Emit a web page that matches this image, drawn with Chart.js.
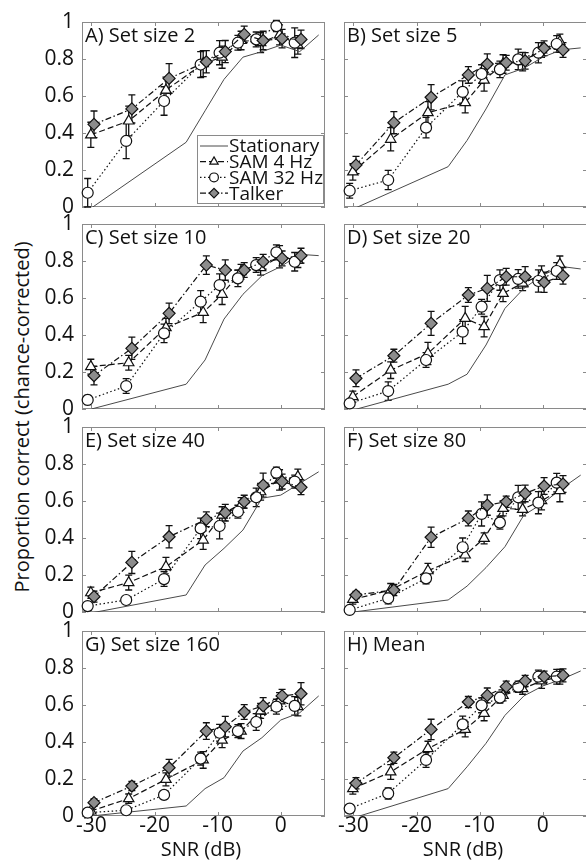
<!DOCTYPE html>
<html>
<head>
<meta charset="utf-8">
<title>Proportion correct vs SNR</title>
<script src="https://cdn.jsdelivr.net/npm/chart.js@4.4.1/dist/chart.umd.min.js"></script>
<style>
  html, body { margin: 0; padding: 0; background: #fff; overflow: hidden; }
  body { width: 586px; height: 861px; position: relative; font-family: "Open Sans", sans-serif; color: #111; }
  canvas { position: absolute; }
  .panel-title { position: absolute; font-size: 20px; line-height: 20px; white-space: nowrap; }
  .axis-title { position: absolute; font-size: 20px; line-height: 20px; white-space: nowrap; }
  #y-title { left: 22px; top: 417px; transform: translate(-50%, -50%) rotate(-90deg); }
</style>
</head>
<body>
<div id="y-title" class="axis-title">Proportion correct (chance-corrected)</div>
<script>
// Axes
const xRange = [-31.5, 7];
const xTicks = [-30, -20, -10, 0];
const yTicks = [0, 0.2, 0.4, 0.6, 0.8, 1];

const panelTitles = ["A) Set size 2", "B) Set size 5", "C) Set size 10", "D) Set size 20",
                     "E) Set size 40", "F) Set size 80", "G) Set size 160", "H) Mean"];
const seriesLabels = ["Stationary", "SAM 4 Hz", "SAM 32 Hz", "Talker"];

// SNR (dB) of each point; the modulated maskers are nudged apart so the bars don't overlap
const snrStationary = [-30, -15, -12, -9, -6, -3, 0, 3, 6];
const snrSam4   = [-30.1, -24.1, -18.2, -12.3, -9.3, -6.3, -3.2, -0.2, 2.7];
const snrSam32  = [-30.6, -24.5, -18.5, -12.7, -9.7, -6.8, -3.9, -0.7, 2.2];
const snrTalker = [-29.6, -23.6, -17.7, -11.8, -8.8, -5.8, -2.8, 0.2, 3.2];

// One row per panel, A..H
const stationary = [
  [-0.005, 0.35, 0.52, 0.69, 0.81, 0.84, 0.875, 0.84, 0.93],
  [-0.01, 0.218, 0.36, 0.53, 0.714, 0.75, 0.81, 0.85, 0.86],
  [0.0, 0.134, 0.265, 0.486, 0.62, 0.72, 0.77, 0.836, 0.829],
  [-0.005, 0.134, 0.188, 0.346, 0.544, 0.652, 0.724, 0.77, 0.757],
  [-0.005, 0.092, 0.254, 0.344, 0.443, 0.615, 0.632, 0.695, 0.758],
  [0.0, 0.065, 0.14, 0.24, 0.353, 0.524, 0.587, 0.668, 0.74],
  [0.0, 0.054, 0.148, 0.207, 0.351, 0.423, 0.519, 0.558, 0.649],
  [-0.01, 0.148, 0.266, 0.393, 0.544, 0.649, 0.703, 0.739, 0.784]
];
const sam4 = [
  [0.39, 0.465, 0.632, 0.775, 0.81, 0.90, 0.888, 0.93, 0.876],
  [0.19, 0.366, 0.51, 0.564, 0.686, 0.773, 0.786, 0.849, 0.894],
  [0.229, 0.25, 0.44, 0.522, 0.62, 0.742, 0.764, 0.823, 0.805],
  [0.067, 0.21, 0.30, 0.49, 0.445, 0.625, 0.68, 0.724, 0.782],
  [0.104, 0.159, 0.245, 0.389, 0.524, 0.578, 0.65, 0.714, 0.732],
  [0.068, 0.119, 0.223, 0.308, 0.398, 0.56, 0.555, 0.602, 0.656],
  [0.027, 0.094, 0.198, 0.303, 0.41, 0.459, 0.568, 0.622, 0.591],
  [0.148, 0.238, 0.364, 0.468, 0.555, 0.652, 0.688, 0.73, 0.753]
];
const sam4Err = [
  [0.068, 0.08, 0.07, 0.07, 0.06, 0.05, 0.054, 0.054, 0.05],
  [0.045, 0.063, 0.06, 0.055, 0.06, 0.05, 0.05, 0.04, 0.04],
  [0.04, 0.04, 0.05, 0.055, 0.055, 0.04, 0.04, 0.06, 0.04],
  [0.03, 0.045, 0.06, 0.065, 0.055, 0.045, 0.04, 0.05, 0.045],
  [0.03, 0.04, 0.05, 0.05, 0.045, 0.04, 0.045, 0.055, 0.04],
  [0.025, 0.035, 0.04, 0.035, 0.03, 0.04, 0.035, 0.05, 0.06],
  [0.015, 0.025, 0.035, 0.045, 0.04, 0.04, 0.04, 0.045, 0.05],
  [0.03, 0.04, 0.04, 0.04, 0.04, 0.03, 0.03, 0.04, 0.04]
];
const sam32 = [
  [0.077, 0.357, 0.573, 0.77, 0.834, 0.888, 0.906, 0.978, 0.888],
  [0.088, 0.146, 0.429, 0.622, 0.719, 0.744, 0.798, 0.834, 0.881],
  [0.049, 0.124, 0.409, 0.58, 0.67, 0.706, 0.778, 0.847, 0.796],
  [0.03, 0.097, 0.265, 0.418, 0.553, 0.697, 0.703, 0.692, 0.746],
  [0.032, 0.065, 0.178, 0.452, 0.465, 0.542, 0.62, 0.753, 0.705],
  [0.011, 0.074, 0.182, 0.35, 0.53, 0.483, 0.62, 0.591, 0.699],
  [0.018, 0.031, 0.114, 0.31, 0.45, 0.459, 0.508, 0.591, 0.595],
  [0.04, 0.122, 0.303, 0.495, 0.598, 0.64, 0.699, 0.753, 0.753]
];
const sam32Err = [
  [0.077, 0.095, 0.077, 0.07, 0.065, 0.04, 0.04, 0.03, 0.08],
  [0.04, 0.052, 0.055, 0.06, 0.05, 0.045, 0.055, 0.055, 0.045],
  [0.025, 0.04, 0.05, 0.06, 0.06, 0.045, 0.04, 0.04, 0.05],
  [0.02, 0.05, 0.04, 0.065, 0.04, 0.055, 0.05, 0.06, 0.045],
  [0.015, 0.015, 0.04, 0.055, 0.07, 0.035, 0.05, 0.03, 0.035],
  [0.01, 0.03, 0.03, 0.05, 0.065, 0.035, 0.065, 0.06, 0.05],
  [0.01, 0.015, 0.02, 0.035, 0.045, 0.035, 0.045, 0.04, 0.05],
  [0.01, 0.03, 0.04, 0.045, 0.04, 0.03, 0.03, 0.035, 0.04]
];
const talker = [
  [0.447, 0.53, 0.695, 0.785, 0.84, 0.933, 0.90, 0.91, 0.906],
  [0.227, 0.456, 0.593, 0.714, 0.773, 0.78, 0.79, 0.858, 0.849],
  [0.18, 0.328, 0.517, 0.778, 0.751, 0.751, 0.796, 0.814, 0.829],
  [0.166, 0.288, 0.463, 0.616, 0.652, 0.715, 0.715, 0.685, 0.72],
  [0.083, 0.268, 0.407, 0.501, 0.537, 0.596, 0.686, 0.705, 0.674],
  [0.092, 0.119, 0.404, 0.506, 0.578, 0.596, 0.641, 0.681, 0.692],
  [0.072, 0.162, 0.261, 0.459, 0.483, 0.562, 0.595, 0.649, 0.661],
  [0.177, 0.315, 0.468, 0.616, 0.652, 0.699, 0.73, 0.753, 0.76]
];
const talkerErr = [
  [0.072, 0.076, 0.08, 0.06, 0.06, 0.045, 0.05, 0.05, 0.05],
  [0.047, 0.06, 0.068, 0.045, 0.055, 0.04, 0.045, 0.04, 0.04],
  [0.05, 0.06, 0.055, 0.05, 0.055, 0.04, 0.04, 0.04, 0.04],
  [0.045, 0.035, 0.065, 0.04, 0.07, 0.045, 0.055, 0.055, 0.045],
  [0.03, 0.06, 0.06, 0.04, 0.045, 0.035, 0.065, 0.04, 0.04],
  [0.02, 0.03, 0.055, 0.04, 0.055, 0.03, 0.045, 0.045, 0.045],
  [0.02, 0.025, 0.045, 0.045, 0.055, 0.04, 0.045, 0.035, 0.06],
  [0.03, 0.03, 0.055, 0.03, 0.04, 0.03, 0.03, 0.03, 0.035]
];

// Page layout: plot boxes for the two columns and four rows
const PLOT_W = 243, PLOT_H = 185;
const colLeft = [82, 344];
const rowTop = [22, 224, 427, 631];
const MARGIN = { left: 60, top: 14, right: 10, bottom: 34 };
const FRAME_COLOR = "#8a8a8a";
const INK = "#111";
const TICK_LEN = 4;

function pairs(xs, ys) {
  return xs.map((x, i) => ({ x: x, y: ys[i] }));
}

// Keep every plot box the same size whatever labels its axes carry
function fixAxisBox(s) {
  if (s.isHorizontal()) s.height = MARGIN.bottom;
  else s.width = MARGIN.left;
  s.paddingTop = s.paddingBottom = s.paddingLeft = s.paddingRight = 0;
}

// Box round the plot area with inward ticks on all four sides
const boxTicks = {
  id: "boxTicks",
  beforeDatasetsDraw(chart) {
    const { ctx, chartArea: a, scales } = chart;
    ctx.save();
    ctx.strokeStyle = FRAME_COLOR;
    ctx.lineWidth = 1;
    ctx.strokeRect(a.left + 0.5, a.top + 0.5, a.width - 1, a.height - 1);
    ctx.beginPath();
    xTicks.forEach(v => {
      const px = Math.round(scales.x.getPixelForValue(v)) + 0.5;
      ctx.moveTo(px, a.bottom); ctx.lineTo(px, a.bottom - TICK_LEN);
      ctx.moveTo(px, a.top); ctx.lineTo(px, a.top + TICK_LEN);
    });
    yTicks.forEach(v => {
      const py = Math.round(scales.y.getPixelForValue(v)) + 0.5;
      ctx.moveTo(a.left, py); ctx.lineTo(a.left + TICK_LEN, py);
      ctx.moveTo(a.right, py); ctx.lineTo(a.right - TICK_LEN, py);
    });
    ctx.stroke();
    ctx.restore();
  }
};

// Vertical error bars with small caps, drawn under the markers
const errorBars = {
  id: "errorBars",
  beforeDatasetsDraw(chart) {
    const { ctx, scales } = chart;
    ctx.save();
    ctx.strokeStyle = INK;
    ctx.lineWidth = 1.3;
    chart.data.datasets.forEach((ds, i) => {
      if (!ds.errors) return;
      chart.getDatasetMeta(i).data.forEach((pt, j) => {
        const v = ds.data[j].y, e = ds.errors[j];
        const top = scales.y.getPixelForValue(v + e);
        const bot = scales.y.getPixelForValue(v - e);
        ctx.beginPath();
        ctx.moveTo(pt.x, top); ctx.lineTo(pt.x, bot);
        ctx.moveTo(pt.x - 3.5, top); ctx.lineTo(pt.x + 3.5, top);
        ctx.moveTo(pt.x - 3.5, bot); ctx.lineTo(pt.x + 3.5, bot);
        ctx.stroke();
      });
    });
    ctx.restore();
  }
};

// Boxed legend in the lower right corner of panel A
const boxLegend = {
  id: "boxLegend",
  afterDraw(chart) {
    if (!chart.options.plugins.boxLegend.show) return;
    const { ctx, chartArea: a } = chart;
    const w = 127, h = 69;
    const left = a.right - 1 - w, top = a.bottom - 3 - h;
    ctx.save();
    ctx.fillStyle = "#fff";
    ctx.fillRect(left, top, w, h);
    ctx.strokeStyle = FRAME_COLOR;
    ctx.lineWidth = 1;
    ctx.strokeRect(left + 0.5, top + 0.5, w - 1, h - 1);
    chart.data.datasets.forEach((ds, i) => {
      const y = top + 11 + i * 15.7;
      ctx.strokeStyle = ds.borderColor;
      ctx.lineWidth = ds.borderWidth;
      ctx.setLineDash(ds.borderDash || []);
      ctx.beginPath();
      ctx.moveTo(left + 3, y); ctx.lineTo(left + 31, y);
      ctx.stroke();
      ctx.setLineDash([]);
      if (ds.pointRadius > 0) {
        ctx.fillStyle = ds.pointBackgroundColor;
        ctx.strokeStyle = ds.pointBorderColor;
        ctx.lineWidth = ds.pointBorderWidth;
        Chart.helpers.drawPoint(ctx, {
          pointStyle: ds.pointStyle, radius: ds.pointRadius * 0.8,
          rotation: 0, borderWidth: ds.pointBorderWidth
        }, left + 17, y);
      }
      ctx.fillStyle = INK;
      ctx.font = '19px "Open Sans"';
      ctx.textBaseline = "middle";
      ctx.fillText(ds.label, left + 32, y + 1);
    });
    ctx.restore();
  }
};

function makeDatasets(p) {
  const marker = { showLine: true, borderColor: INK, borderWidth: 1.2, pointBorderColor: INK,
                   pointBorderWidth: 1.2, clip: false };
  return [
    { label: seriesLabels[0], data: pairs(snrStationary, stationary[p]), showLine: true,
      borderColor: "#4a4a4a", borderWidth: 1, pointRadius: 0, order: 4, clip: 0 },
    Object.assign({ label: seriesLabels[1], data: pairs(snrSam4, sam4[p]), errors: sam4Err[p],
      borderDash: [6, 3], pointStyle: "triangle", pointRadius: 6, pointBackgroundColor: "#fff", order: 3 }, marker),
    Object.assign({ label: seriesLabels[2], data: pairs(snrSam32, sam32[p]), errors: sam32Err[p],
      borderDash: [1.5, 2.5], pointStyle: "circle", pointRadius: 5.5, pointBackgroundColor: "#fff", order: 2 }, marker),
    Object.assign({ label: seriesLabels[3], data: pairs(snrTalker, talker[p]), errors: talkerErr[p],
      borderDash: [6, 2.5, 1.5, 2.5], pointStyle: "rectRot", pointRadius: 6, pointBackgroundColor: "#8c8c8c", order: 1 }, marker)
  ];
}

const tickFont = { family: "'Open Sans', sans-serif", size: 21 };

panelTitles.forEach((title, p) => {
  const col = p % 2, row = Math.floor(p / 2);
  const canvas = document.createElement("canvas");
  canvas.width = PLOT_W + MARGIN.left + MARGIN.right;
  canvas.height = PLOT_H + MARGIN.top + MARGIN.bottom;
  canvas.style.left = (colLeft[col] - MARGIN.left) + "px";
  canvas.style.top = (rowTop[row] - MARGIN.top) + "px";
  document.body.appendChild(canvas);

  new Chart(canvas, {
    type: "scatter",
    data: { datasets: makeDatasets(p) },
    options: {
      responsive: false,
      animation: false,
      events: [],
      layout: { padding: { top: MARGIN.top, right: MARGIN.right, left: 0, bottom: 0 } },
      plugins: {
        legend: { display: false },
        tooltip: { enabled: false },
        boxLegend: { show: p === 0 }
      },
      scales: {
        x: {
          type: "linear", min: xRange[0], max: xRange[1],
          grid: { display: false, drawTicks: false }, border: { display: false },
          afterBuildTicks: s => { s.ticks = xTicks.map(v => ({ value: v })); },
          afterFit: fixAxisBox,
          ticks: { display: row === 3, font: tickFont, color: INK, padding: -3,
                   maxRotation: 0, autoSkip: false, callback: v => String(v) }
        },
        y: {
          type: "linear", min: 0, max: 1,
          grid: { display: false, drawTicks: false }, border: { display: false },
          afterBuildTicks: s => { s.ticks = yTicks.map(v => ({ value: v })); },
          afterFit: fixAxisBox,
          ticks: { display: col === 0, font: tickFont, color: INK, padding: 8,
                   callback: v => String(Number(v.toFixed(1))) }
        }
      }
    },
    plugins: [boxTicks, errorBars, boxLegend]
  });

  const label = document.createElement("div");
  label.className = "panel-title";
  label.textContent = title;
  label.style.left = (colLeft[col] + 3) + "px";
  label.style.top = (rowTop[row] + 3) + "px";
  document.body.appendChild(label);

  if (row === 3) {
    const snr = document.createElement("div");
    snr.className = "axis-title";
    snr.textContent = "SNR (dB)";
    snr.style.left = (colLeft[col] + 119) + "px";
    snr.style.top = "839px";
    snr.style.transform = "translateX(-50%)";
    document.body.appendChild(snr);
  }
});
</script>
</body>
</html>
